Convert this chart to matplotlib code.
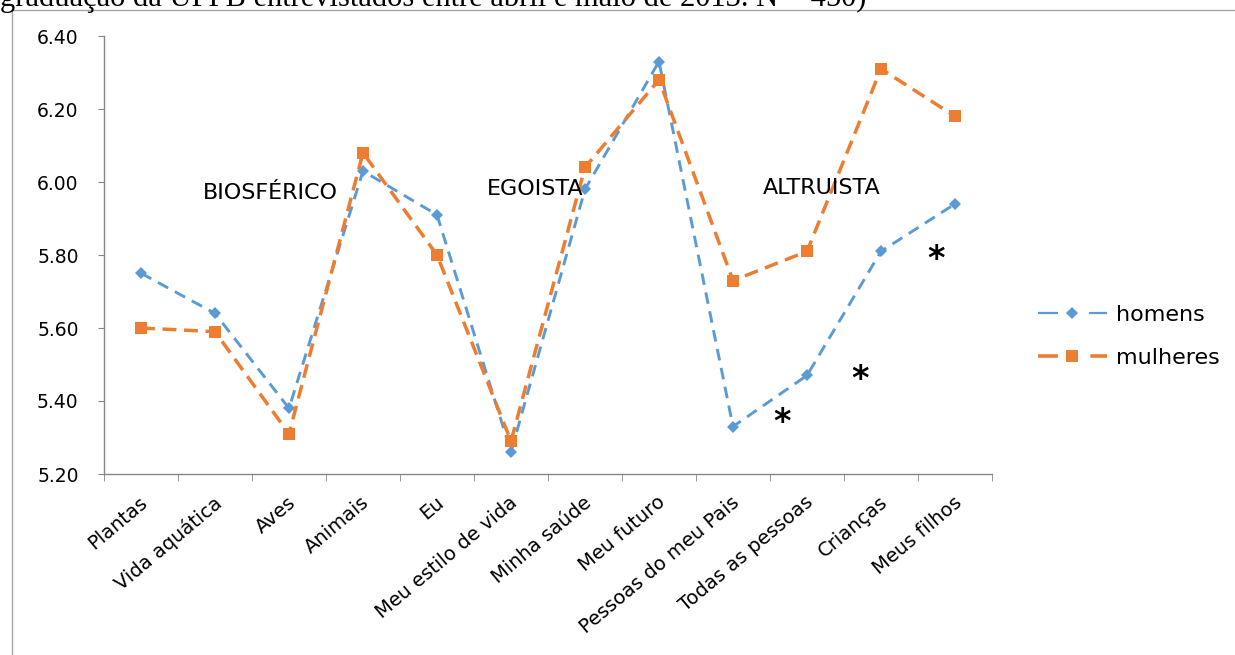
import matplotlib
matplotlib.use("Agg")
import matplotlib.pyplot as plt
from matplotlib.lines import Line2D
from matplotlib.ticker import FormatStrFormatter, MultipleLocator
from matplotlib.transforms import ScaledTranslation

categorias = ["Plantas", "Vida aquática", "Aves", "Animais", "Eu",
              "Meu estilo de vida", "Minha saúde", "Meu futuro",
              "Pessoas do meu Pais", "Todas as pessoas", "Crianças", "Meus filhos"]
homens = [5.75, 5.64, 5.38, 6.03, 5.91, 5.26, 5.98, 6.33, 5.33, 5.47, 5.81, 5.94]
mulheres = [5.60, 5.59, 5.31, 6.08, 5.80, 5.29, 6.04, 6.28, 5.73, 5.81, 6.31, 6.18]

grupos = ["BIOSFÉRICO", "EGOISTA", "ALTRUISTA"]
grupos_x = [1.75, 5.33, 9.2]
grupos_y = [5.953, 5.965, 5.967]

asterisco_x = [8.66, 9.72, 10.74]
asterisco_y = [5.342, 5.46, 5.789]

titulo = "graduação da UFPB entrevistados entre abril e maio de 2013. N = 450)"

azul = "#5B9BD5"
laranja = "#ED7D31"
cinza = "#868686"

plt.rcParams["font.family"] = ["DejaVu Sans"]

fig = plt.figure(figsize=(12.35, 6.55), dpi=100)
ax = fig.add_axes([104 / 1235, 1 - 474 / 655, 888 / 1235, 438 / 655])

x = list(range(len(categorias)))
ax.plot(x, homens, color=azul, lw=2.1, dashes=(4, 2.6), marker="D", ms=6.5,
        mew=0, zorder=3)
ax.plot(x, mulheres, color=laranja, lw=2.5, dashes=(4, 2.2), marker="s", ms=9,
        mew=0, zorder=4)

for nome, gx, gy in zip(grupos, grupos_x, grupos_y):
    ax.text(gx, gy, nome, ha="center", va="baseline", fontsize=16, zorder=5)

for ax_, ay in zip(asterisco_x, asterisco_y):
    ax.text(ax_, ay, "*", ha="center", va="center", fontsize=24,
            fontweight="bold", zorder=5)

ax.set_xlim(-0.5, len(categorias) - 0.5)
ax.set_ylim(5.2, 6.4)
ax.yaxis.set_major_locator(MultipleLocator(0.2))
ax.yaxis.set_major_formatter(FormatStrFormatter("%.2f"))

ax.set_xticks(x)
ax.set_xticklabels(categorias, rotation=40, ha="right", va="top",
                   rotation_mode="anchor", fontsize=14)
ax.set_xticks([i - 0.5 for i in range(len(categorias) + 1)], minor=True)
ax.tick_params(axis="x", which="major", length=0, pad=13.5)
ax.tick_params(axis="x", which="minor", length=5, color=cinza, direction="out")
ax.tick_params(axis="y", length=4.3, color=cinza, pad=14, labelsize=13.5)

offset = ScaledTranslation(-2 / 100, 0, fig.dpi_scale_trans)
for lbl in ax.get_xticklabels():
    lbl.set_transform(lbl.get_transform() + offset)

for side in ["top", "right"]:
    ax.spines[side].set_visible(False)
for side in ["left", "bottom"]:
    ax.spines[side].set_color(cinza)
    ax.spines[side].set_linewidth(1)

handles = [
    Line2D([], [], color=azul, lw=1.6, dashes=(9, 14), marker="D", ms=6.5, mew=0),
    Line2D([], [], color=laranja, lw=2.6, dashes=(5.5, 9), marker="s", ms=8, mew=0),
]
fig.legend(handles, ["homens", "mulheres"], loc="center left",
           bbox_to_anchor=(1038 / 1235, 1 - 336.5 / 655), frameon=False,
           fontsize=16, handlelength=3.1, handletextpad=0.4, labelspacing=1.02,
           borderpad=0, borderaxespad=0)

# moldura da página e legenda cortada no topo
fig.add_artist(Line2D([12 / 1235, 12 / 1235], [0, 1 - 10 / 655],
                      transform=fig.transFigure, color="#a6a6a6", lw=1))
fig.add_artist(Line2D([12 / 1235, 1], [1 - 10 / 655, 1 - 10 / 655],
                      transform=fig.transFigure, color="#a6a6a6", lw=1))
fig.text(0.0, 1 - 6 / 655, titulo, ha="left", va="baseline", fontsize=22,
         family=["Liberation Serif"])

fig.savefig("out.png", dpi=100)
